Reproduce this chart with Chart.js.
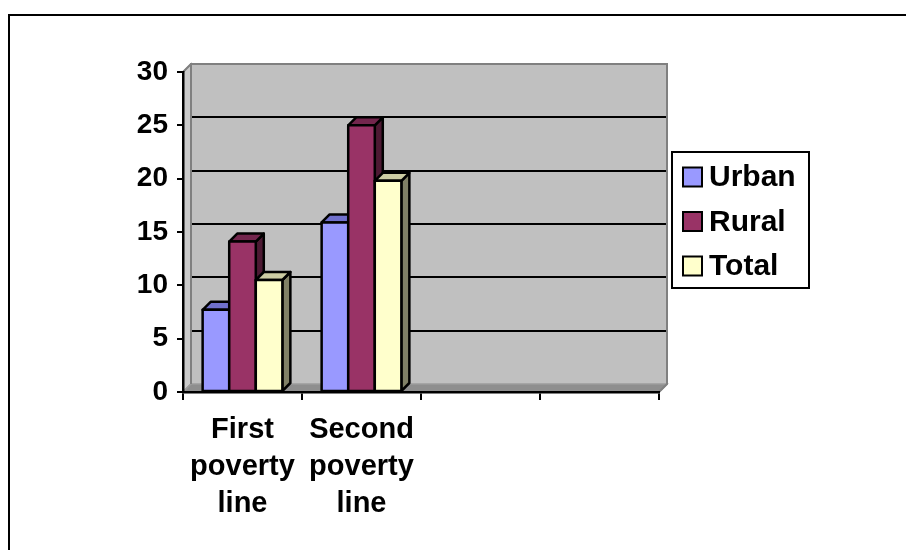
<!DOCTYPE html>
<html>
<head>
<meta charset="utf-8">
<script src="https://cdn.jsdelivr.net/npm/chart.js@4.4.1/dist/chart.umd.min.js"></script>
<style>
  html, body { margin: 0; padding: 0; background: #fff; }
  canvas { display: block; }
</style>
</head>
<body>
<canvas id="povertyChart" width="906" height="550"></canvas>
<script>
const categories = [["First", "poverty", "line"], ["Second", "poverty", "line"], "", ""];
const urban = [7.7, 15.9, null, null];
const rural = [14.1, 25.0, null, null];
const total = [10.5, 19.8, null, null];
const yMin = 0;
const yMax = 30;
const yStep = 5;

const DEPTH = 8;

// front / top / side colours per series
const faces = [
  { front: "#9999ff", top: "#7070cc", side: "#5c5ca8" },
  { front: "#993366", top: "#73264d", side: "#4d1a33" },
  { front: "#ffffcc", top: "#ccccA3", side: "#808066" },
];

function poly(ctx, pts, fill, stroke, lw) {
  ctx.beginPath();
  ctx.moveTo(pts[0][0], pts[0][1]);
  for (let i = 1; i < pts.length; i++) ctx.lineTo(pts[i][0], pts[i][1]);
  ctx.closePath();
  if (fill) {
    ctx.fillStyle = fill;
    ctx.fill();
  }
  if (stroke) {
    ctx.strokeStyle = stroke;
    ctx.lineWidth = lw;
    ctx.stroke();
  }
}

const boxPlot = {
  id: "boxPlot",
  beforeDraw(chart) {
    const ctx = chart.ctx;
    const { left, right, top, bottom } = chart.chartArea;
    const d = DEPTH;
    ctx.save();
    ctx.fillStyle = "#fff";
    ctx.fillRect(0, 0, chart.width, chart.height);

    // frame round the whole chart
    ctx.strokeStyle = "#000";
    ctx.lineWidth = 2;
    ctx.beginPath();
    ctx.moveTo(9, chart.height + 2);
    ctx.lineTo(9, 15);
    ctx.lineTo(chart.width + 2, 15);
    ctx.stroke();

    ctx.lineJoin = "miter";
    // back wall
    poly(ctx, [[left + d, top - d], [right + d, top - d], [right + d, bottom - d], [left + d, bottom - d]],
      "#c0c0c0", null, 0);
    // side wall
    poly(ctx, [[left, top], [left + d, top - d], [left + d, bottom - d], [left, bottom]],
      "#cbcbcb", "#8c8c8c", 1.5);
    // floor
    poly(ctx, [[left, bottom], [left + d, bottom - d], [right + d, bottom - d], [right, bottom]],
      "#8e8e8e", "#9c9c9c", 1.5);

    // gridlines on the back wall
    const y = chart.scales.y;
    ctx.strokeStyle = "#000";
    ctx.lineWidth = 2;
    y.ticks.forEach(t => {
      if (t.value <= yMin || t.value >= yMax) return;
      const py = Math.round(y.getPixelForValue(t.value) - d);
      ctx.beginPath();
      ctx.moveTo(left + d, py);
      ctx.lineTo(right + d, py);
      ctx.stroke();
    });

    // wall outline
    ctx.strokeStyle = "#808080";
    ctx.lineWidth = 2;
    ctx.beginPath();
    ctx.moveTo(left + d, bottom - d);
    ctx.lineTo(left + d, top - d);
    ctx.lineTo(right + d, top - d);
    ctx.lineTo(right + d, bottom - d);
    ctx.lineTo(right, bottom);
    ctx.stroke();
    ctx.beginPath();
    ctx.moveTo(left, top);
    ctx.lineTo(left + d, top - d);
    ctx.stroke();
    ctx.restore();
  },
  beforeDatasetsDraw(chart) {
    const ctx = chart.ctx;
    const d = DEPTH;
    ctx.save();
    ctx.lineJoin = "round";
    chart.data.datasets.forEach((ds, di) => {
      const meta = chart.getDatasetMeta(di);
      meta.data.forEach((bar, i) => {
        if (!Number.isFinite(ds.data[i])) return;
        const { x, y, base, width } = bar.getProps(["x", "y", "base", "width"], true);
        const l = x - width / 2;
        const r = x + width / 2;
        poly(ctx, [[r, y], [r + d, y - d], [r + d, base - d], [r, base]], faces[di].side, "#000", 2.5);
        poly(ctx, [[l, y], [l + d, y - d], [r + d, y - d], [r, y]], faces[di].top, "#000", 2.5);
        poly(ctx, [[l, y], [r, y], [r, base], [l, base]], faces[di].front, "#000", 2.5);
      });
    });
    ctx.restore();
    return false;
  },
  afterDraw(chart) {
    const ctx = chart.ctx;
    ctx.save();
    // legend box
    const bx = 672, by = 152, bw = 137, bh = 136;
    ctx.fillStyle = "#fff";
    ctx.fillRect(bx, by, bw, bh);
    ctx.strokeStyle = "#000";
    ctx.lineWidth = 2;
    ctx.strokeRect(bx, by, bw, bh);
    ctx.font = "bold 30px 'Liberation Sans', Arial, sans-serif";
    ctx.textBaseline = "middle";
    ctx.textAlign = "left";
    chart.data.datasets.forEach((ds, i) => {
      const cy = 177 + i * 44.5;
      ctx.fillStyle = ds.backgroundColor;
      ctx.fillRect(683, cy - 9.5, 19, 19);
      ctx.strokeRect(683, cy - 9.5, 19, 19);
      ctx.fillStyle = "#000";
      ctx.fillText(ds.label, 709, cy + 1);
    });
    ctx.restore();
  },
};

Chart.defaults.font.family = "'Liberation Sans', Arial, sans-serif";
Chart.defaults.font.weight = "bold";
Chart.defaults.color = "#000";

new Chart(document.getElementById("povertyChart"), {
  type: "bar",
  data: {
    labels: categories,
    datasets: [
      { label: "Urban", data: urban, backgroundColor: faces[0].front },
      { label: "Rural", data: rural, backgroundColor: faces[1].front },
      { label: "Total", data: total, backgroundColor: faces[2].front },
    ],
  },
  plugins: [boxPlot],
  options: {
    responsive: false,
    animation: false,
    devicePixelRatio: 1,
    layout: { padding: { top: 72, right: 247, left: 0, bottom: 0 } },
    datasets: {
      bar: {
        categoryPercentage: 0.67,
        barPercentage: 1.0,
        borderWidth: 2,
        borderColor: "#000",
        borderSkipped: false,
      },
    },
    scales: {
      x: {
        afterFit(scale) { scale.height = 158; },
        grid: {
          drawOnChartArea: false,
          color: "#000",
          lineWidth: 2,
          tickLength: 8,
        },
        border: { color: "#000", width: 2.5 },
        ticks: {
          font: { size: 29, lineHeight: 1.28 },
          padding: 11,
          maxRotation: 0,
          autoSkip: false,
        },
      },
      y: {
        min: yMin,
        max: yMax,
        afterFit(scale) { scale.width = 183; },
        grid: {
          drawOnChartArea: false,
          color: "#000",
          lineWidth: 2,
          tickLength: 6,
        },
        border: { color: "#000", width: 2.5 },
        ticks: {
          stepSize: yStep,
          font: { size: 28 },
          padding: 9,
        },
      },
    },
    plugins: {
      legend: { display: false },
      tooltip: { enabled: false },
    },
  },
});
</script>
</body>
</html>
